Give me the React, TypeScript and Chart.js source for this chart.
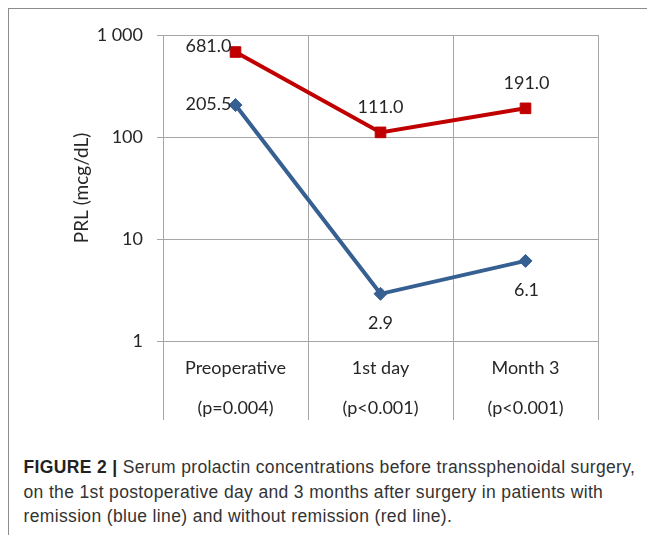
import React, { useEffect, useRef } from "react";
import { Chart, registerables } from "chart.js";

Chart.register(...registerables);

// ---- data ----
const categories: string[][] = [
  ["Preoperative", "(p=0.004)"],
  ["1st day", "(p<0.001)"],
  ["Month 3", "(p<0.001)"],
];
const remissionValues = [205.5, 2.9, 6.1];
const noRemissionValues = [681.0, 111.0, 191.0];
const yTickValues = [1, 10, 100, 1000];
const yTickLabels = ["1", "10", "100", "1 000"];

// ---- styles ----
const RED = "#C00000";
const BLUE = "#376092";
const GRID = "#A6A6A6";
const TEXT = "#262626";
const FONT = "Lato, 'Open Sans', sans-serif";

// label placement per dataset / point: [dx, dy, align]
const labelPlacement: [number, number, CanvasTextAlign][][] = [
  [
    [-4, -1, "right"],
    [0, 29, "center"],
    [1, 29, "center"],
  ],
  [
    [-4, -6, "right"],
    [0, -25, "center"],
    [1, -25, "center"],
  ],
];

const valueLabels = {
  id: "valueLabels",
  afterDatasetsDraw(chart: any) {
    const ctx = chart.ctx as CanvasRenderingContext2D;
    ctx.save();
    ctx.font = `18px ${FONT}`;
    ctx.fillStyle = TEXT;
    ctx.textBaseline = "middle";
    chart.data.datasets.forEach((ds: any, di: number) => {
      const meta = chart.getDatasetMeta(di);
      meta.data.forEach((pt: any, i: number) => {
        const [dx, dy, align] = labelPlacement[di][i];
        ctx.textAlign = align;
        ctx.fillText(Number(ds.data[i]).toFixed(1), pt.x + dx, pt.y + dy);
      });
    });
    ctx.restore();
  },
};

export default function App() {
  const ref = useRef<HTMLCanvasElement | null>(null);

  useEffect(() => {
    if (!ref.current) return;
    const chart = new Chart(ref.current, {
      type: "line",
      data: {
        labels: categories,
        datasets: [
          {
            label: "Remission",
            data: remissionValues,
            borderColor: BLUE,
            backgroundColor: BLUE,
            borderWidth: 4,
            pointStyle: "rectRot",
            pointRadius: 6.5,
            pointBorderWidth: 1,
            tension: 0,
          },
          {
            label: "Without remission",
            data: noRemissionValues,
            borderColor: RED,
            backgroundColor: RED,
            borderWidth: 4,
            pointStyle: "rect",
            pointRadius: 7.5,
            pointBorderWidth: 1,
            tension: 0,
          },
        ],
      },
      options: {
        animation: false,
        responsive: false,
        maintainAspectRatio: false,
        events: [],
        layout: { padding: { top: 26, right: 41, bottom: 0, left: 0 } },
        plugins: {
          legend: { display: false },
          tooltip: { enabled: false },
        },
        scales: {
          x: {
            type: "category",
            offset: true,
            grid: {
              offset: true,
              color: GRID,
              tickColor: GRID,
              tickLength: 79,
              lineWidth: 1,
            },
            border: { color: GRID },
            ticks: {
              color: TEXT,
              font: { family: FONT, size: 18, lineHeight: 40 / 18 },
              padding: -72,
              maxRotation: 0,
              autoSkip: false,
            },
            afterFit: (s: any) => {
              s.height = 98;
            },
          },
          y: {
            type: "logarithmic",
            min: 1,
            max: 1000,
            afterBuildTicks: (s: any) => {
              s.ticks = yTickValues.map((v) => ({ value: v }));
            },
            ticks: {
              color: TEXT,
              font: { family: FONT, size: 18 },
              padding: 14,
              callback: (v: any) => {
                const i = yTickValues.indexOf(Number(v));
                return i >= 0 ? yTickLabels[i] : "";
              },
            },
            grid: { color: GRID, tickColor: GRID, tickLength: 6, lineWidth: 1 },
            border: { color: GRID },
            title: {
              display: true,
              text: "PRL (mcg/dL)",
              color: TEXT,
              font: { family: FONT, size: 19 },
              padding: { top: 61.6, bottom: 0 },
            },
            afterFit: (s: any) => {
              s.width = 154;
            },
          },
        },
      },
      plugins: [valueLabels],
    });
    return () => chart.destroy();
  }, []);

  return (
    <div
      style={{
        position: "relative",
        width: 647,
        height: 527,
        borderTop: "1px solid #8c8c8c",
        borderLeft: "1px solid #8c8c8c",
        boxSizing: "border-box",
        overflow: "hidden",
        background: "#fff",
      }}
    >
      <canvas
        ref={ref}
        width={630}
        height={430}
        style={{ position: "absolute", left: 0, top: 0, width: 630, height: 430 }}
      />
      <div
        style={{
          position: "absolute",
          left: 14.5,
          top: 446,
          width: 630,
          fontFamily: "'Liberation Sans', Arial, sans-serif",
          fontSize: 17.5,
          letterSpacing: "0.35px",
          lineHeight: "24.5px",
          color: "#333",
          whiteSpace: "nowrap",
        }}
      >
        <div>
          <b style={{ color: "#222" }}>FIGURE 2 |</b> Serum prolactin concentrations before transsphenoidal surgery,
        </div>
        <div>on the 1st postoperative day and 3 months after surgery in patients with</div>
        <div>remission (blue line) and without remission (red line).</div>
      </div>
    </div>
  );
}
